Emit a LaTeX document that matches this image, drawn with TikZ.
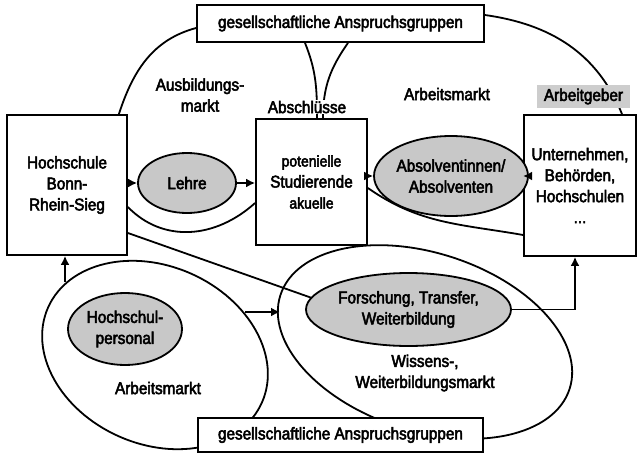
\documentclass[tikz,border=0pt]{standalone}
\usepackage{fontspec}
\setmainfont{Liberation Sans}[FakeStretch=0.9,FakeBold=3]
\usetikzlibrary{shapes.geometric,arrows.meta,calc}
\definecolor{ovalgray}{HTML}{C8C8C8}
\definecolor{taggray}{HTML}{CDCDCD}
\begin{document}
\begin{tikzpicture}[x=1pt,y=1pt,
  every node/.style={font=\fontsize{17}{21}\selectfont, align=center, inner sep=0pt},
  box/.style={draw, fill=white, line width=1.8pt, rectangle},
  oval/.style={draw, fill=ovalgray, line width=1.8pt, ellipse},
  ring/.style={draw, line width=1.8pt, ellipse},
  link/.style={line width=1.8pt},
  arr/.style={line width=1.8pt, -{Latex[length=9pt,width=9pt]}},
  tag/.style={fill=taggray, rectangle},
  clear/.style={fill=white, inner sep=1pt}]
\useasboundingbox (0,0) rectangle (641,-453);
% market ellipses
\node[ring, minimum width=234, minimum height=178, rotate=-24] (arbm) at (155,-355) {};
\node[ring, minimum width=304, minimum height=178, rotate=-18] (wbm) at (425,-342) {};
% coordinates
\coordinate (a1) at (65,-282);
\coordinate (a2) at (245,-312);
\coordinate (a3) at (280,-312);
\coordinate (fend) at (312,-298);
% boxes
\node[box, minimum width=120, minimum height=140] (hbrs) at (67,-185) {Hochschule\\Bonn-\\Rhein-Sieg};
\node[box, minimum width=111, minimum height=126] (mid) at (311.5,-182) {{\fontsize{15.5}{21}\selectfont potenielle}\\Studierende\\{\fontsize{15.5}{21}\selectfont akuelle}};
\node[box, minimum width=112, minimum height=141] (rbox) at (580,-185.5) {Unternehmen,\\Behörden,\\Hochschulen\\...};
\node[box, minimum width=287, minimum height=37] (top) at (340.5,-23.5) {gesellschaftliche Anspruchsgruppen};
\node[box, minimum width=285, minimum height=34] (bot) at (340.5,-435) {gesellschaftliche Anspruchsgruppen};
% curves
\draw[link] ([yshift=-4.5pt]top.west) to[out=195,in=72] ([xshift=-9pt]hbrs.north east);
\draw[link] ([yshift=8.5pt]top.east) to[out=-8,in=112] ([xshift=42pt]rbox.north);
\draw[link] ([xshift=-35.5pt]top.south) to[out=-68,in=90] ([xshift=5.5pt]mid.north);
\draw[link] ([xshift=7.5pt]top.south) to[out=-125,in=90] ([xshift=11.5pt]mid.north);
\draw[link] ([yshift=-22pt]hbrs.east) .. controls +(35,-36) and +(-40,-36) .. ([yshift=-21pt]mid.west);
\draw[link] ([yshift=-6pt]mid.east) to[out=-35,in=170] ([yshift=-49.5pt]rbox.west);
\draw[link] ([yshift=-48pt]hbrs.east) -- (fend);
% inner ellipses
\node[oval, minimum width=98, minimum height=60] (lehre) at (187,-183) {Lehre};
\node[oval, minimum width=132, minimum height=80] (absol) at (451,-176) {Absolventinnen/\\Absolventen};
\node[oval, minimum width=114, minimum height=72] (hpers) at (125,-329) {Hochschul-\\personal};
\node[oval, minimum width=205, minimum height=73] (forsch) at (408.5,-309.5) {Forschung, Transfer,\\Weiterbildung};
% labels
\node (ausb) at (200,-95) {Ausbildungs-\\markt};
\node[clear] (abschl) at (307,-107) {Abschlüsse};
\node (arbm1) at (447,-94) {Arbeitsmarkt};
\node[tag, minimum width=93, minimum height=23] (arbg) at (583.5,-96.5) {Arbeitgeber};
\node (arbm2) at (158,-388) {Arbeitsmarkt};
\node (wbl) at (425,-373) {Wissens-,\\Weiterbildungsmarkt};
% arrows
\draw[arr] (hbrs.east |- lehre) -- (lehre.west);
\draw[arr] (lehre.east) -- (lehre.east -| mid.west);
\draw[arr] (mid.east |- absol) -- (absol.west);
\draw[arr] (absol.east) -- (absol.east -| rbox.west);
\draw[arr] (a1) -- (a1 |- hbrs.south);
\draw[arr] (a2) -- (a3);
\draw[arr] (forsch.east) -| ([xshift=-5pt]rbox.south);
\end{tikzpicture}
\end{document}
